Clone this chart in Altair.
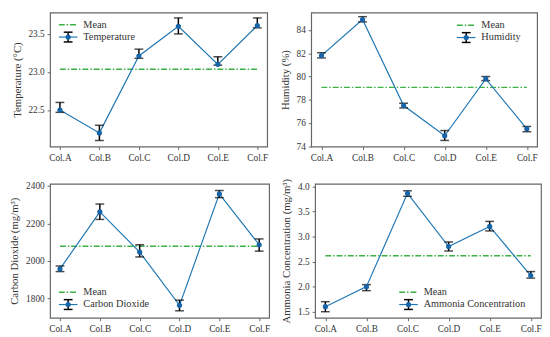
import altair as alt
import pandas as pd

cats = ["Col.A", "Col.B", "Col.C", "Col.D", "Col.E", "Col.F"]

temp_val = [22.50, 22.20, 23.21, 23.60, 23.10, 23.61]
temp_hi = [22.60, 22.30, 23.30, 23.71, 23.20, 23.71]
temp_lo = [22.47, 22.10, 23.18, 23.50, 23.09, 23.58]

hum_val = [81.8, 84.9, 77.5, 74.9, 79.8, 75.5]
hum_hi = [82.05, 85.15, 77.7, 75.35, 80.0, 75.7]
hum_lo = [81.6, 84.7, 77.3, 74.5, 79.65, 75.25]

co2_val = [1958, 2262, 2048, 1764, 2358, 2087]
co2_hi = [1974, 2304, 2087, 1792, 2376, 2118]
co2_lo = [1944, 2222, 2022, 1735, 2338, 2053]

nh3_val = [1.60, 2.00, 3.86, 2.80, 3.20, 2.22]
nh3_hi = [1.70, 2.04, 3.91, 2.89, 3.30, 2.30]
nh3_lo = [1.50, 1.92, 3.80, 2.71, 3.11, 2.17]

FONT = "Liberation Serif"
BLUE = "#1f77b4"
DOT = "#1764a8"
GREEN = "#3cb043"
TXT = "#333333"
FRAME = "#666666"


def panel(vals, hi, lo, name, ytitle, ydomain, yticks, yfmt, width, leg):
    mean = sum(vals) / len(vals)
    df = pd.DataFrame({"cat": cats, "val": vals, "hi": hi, "lo": lo,
                       "mean": [mean] * len(cats)})
    base = alt.Chart(df)
    x = alt.X("cat:N", sort=cats,
              scale=alt.Scale(type="point", padding=0.25),
              axis=alt.Axis(title=None, labelAngle=0, values=cats))
    yscale = alt.Scale(domain=ydomain, nice=False, zero=False)
    yaxis = alt.Axis(title=ytitle, values=yticks, format=yfmt,
                     labelOverlap=False, labelFlush=False)

    def Y(field):
        return alt.Y(field, type="quantitative", scale=yscale, axis=yaxis)

    mean_line = base.mark_line(color=GREEN, strokeWidth=1.5,
                               strokeDash=[6, 2, 1.5, 2]).encode(
        x=x, y=Y("mean"))
    line = base.mark_line(color=BLUE, strokeWidth=1.2).encode(x=x, y=Y("val"))
    err = base.mark_rule(color="black", strokeWidth=1.5).encode(
        x=x, y=Y("lo"), y2="hi:Q")
    cap_hi = base.mark_tick(color="black", size=9, thickness=1.5).encode(
        x=x, y=Y("hi"))
    cap_lo = base.mark_tick(color="black", size=9, thickness=1.5).encode(
        x=x, y=Y("lo"))
    pts = base.mark_point(filled=True, color=DOT, size=28, opacity=1).encode(
        x=x, y=Y("val"))

    lx, ly = leg
    one = alt.Chart(pd.DataFrame({"k": [0]}))
    l_mean = one.mark_rule(color=GREEN, strokeWidth=1.5,
                           strokeDash=[6, 2, 1.5, 2]).encode(
        x=alt.value(lx), x2=alt.value(lx + 19), y=alt.value(ly))
    l_mean_t = one.mark_text(text="Mean", align="left", baseline="middle",
                             font=FONT, fontSize=10.5, color=TXT).encode(
        x=alt.value(lx + 25), y=alt.value(ly))
    ly2 = ly + 12.5
    l_line = one.mark_rule(color=BLUE, strokeWidth=1.2).encode(
        x=alt.value(lx), x2=alt.value(lx + 19), y=alt.value(ly2))
    l_err = one.mark_rule(color="black", strokeWidth=1.5).encode(
        x=alt.value(lx + 9.5), y=alt.value(ly2 - 5), y2=alt.value(ly2 + 5))
    l_c1 = one.mark_rule(color="black", strokeWidth=1.5).encode(
        x=alt.value(lx + 5), x2=alt.value(lx + 14), y=alt.value(ly2 - 5))
    l_c2 = one.mark_rule(color="black", strokeWidth=1.5).encode(
        x=alt.value(lx + 5), x2=alt.value(lx + 14), y=alt.value(ly2 + 5))
    l_dot = one.mark_point(filled=True, color=DOT, size=28, opacity=1).encode(
        x=alt.value(lx + 9.5), y=alt.value(ly2))
    l_t = one.mark_text(text=name, align="left", baseline="middle",
                        font=FONT, fontSize=10.5, color=TXT).encode(
        x=alt.value(lx + 25), y=alt.value(ly2))

    return alt.layer(mean_line, line, err, cap_hi, cap_lo, pts,
                     l_mean, l_mean_t, l_line, l_err, l_c1, l_c2, l_dot, l_t
                     ).properties(width=width, height=137)


tl = panel(temp_val, temp_hi, temp_lo, "Temperature", "Temperature (°C)",
           [22.02, 23.78], [22.5, 23.0, 23.5], ".1f", 222, (9, 12.5))
tr = panel(hum_val, hum_hi, hum_lo, "Humidity", "Humidity (%)",
           [73.97, 85.5], [74, 76, 78, 80, 82, 84], "d", 231, (149, 13))
bl = panel(co2_val, co2_hi, co2_lo, "Carbon Dioxide", "Carbon Dioxide (mg/m³)",
           [1698, 2412], [1800, 2000, 2200, 2400], "d", 224, (9, 111))
br = panel(nh3_val, nh3_hi, nh3_lo, "Ammonia Concentration",
           "Ammonia Concentration (mg/m³)",
           [1.38, 4.05], [1.5, 2.0, 2.5, 3.0, 3.5, 4.0], ".1f", 231, (86, 111))

chart = alt.vconcat(
    alt.hconcat(tl, tr, spacing=9),
    alt.hconcat(bl, br, spacing=9),
    spacing=14,
).properties(padding={"left": 0, "top": 0, "right": 0, "bottom": 0}
).configure_view(stroke=FRAME, strokeWidth=1.2
).configure_axis(
    labelFont=FONT, titleFont=FONT, labelFontSize=9.5, titleFontSize=11,
    labelColor=TXT, titleColor=TXT, titleFontWeight="normal",
    grid=False, domain=False, tickColor=FRAME, tickSize=3, tickWidth=1,
    labelPadding=3, titlePadding=6,
)

chart.save("out.html", embed_options={"renderer": "svg", "actions": False})
